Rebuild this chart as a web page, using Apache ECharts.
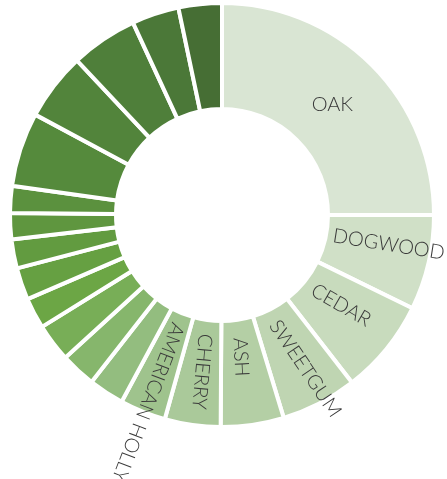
<!DOCTYPE html>
<html>
<head>
<meta charset="utf-8">
<script src="https://cdn.jsdelivr.net/npm/echarts@6/dist/echarts.min.js"></script>
<style>
  html, body { margin: 0; padding: 0; background: #fff; }
  #chart { width: 447px; height: 479px; }
</style>
</head>
<body>
<div id="chart"></div>
<script>
// tree species, share of the inventory (%)
var trees = ['OAK', 'DOGWOOD', 'CEDAR', 'SWEETGUM', 'ASH', 'CHERRY', 'AMERICAN HOLLY',
  'MAPLE', 'PINE', 'ELM', 'BIRCH', 'HICKORY', 'MAGNOLIA', 'REDBUD', 'BEECH',
  'WILLOW', 'POPLAR', 'SYCAMORE', 'WALNUT', 'SPRUCE'];
var shares = [25, 7.25, 7.25, 5.8, 4.8, 4.25, 3.5,
  2.7, 2.7, 2.9, 2.35, 2.45, 2.2, 2.0, 2.05,
  5.65, 5.15, 5.1, 3.6, 3.3];
// only these get a label in the original
var labelled = 7;

var greens = ['#d9e5d3', '#d0e0c7', '#c8dbbd', '#bfd5b2', '#b4cfa5', '#aac99a', '#9fc38d',
  '#93bd7f', '#86b66c', '#78ae57', '#6ca645', '#66a042', '#629b40', '#5f963f', '#5b913e',
  '#558a3c', '#52843b', '#4f7f3a', '#4b7838', '#466e34'];

// label placement for the labelled slices: tilt (deg, ccw +), start radius, angle nudge (deg)
var tilt = [0, -9, -30, -56, -87, -95, -111];
var inset = [156, 113, 117, 119, 124, 120, 117];
var nudge = [0, -2.5, 0, 1.5, 0, 0, 0];

var cx = 222, cy = 215;
var total = shares.reduce(function (a, b) { return a + b; }, 0);
var before = [];
shares.reduce(function (acc, v, i) { before[i] = acc; return acc + v; }, 0);

var chart = echarts.init(document.getElementById('chart'));
chart.setOption({
  animation: false,
  color: greens,
  series: [{
    type: 'pie',
    center: [cx, cy],
    radius: [106, 212],
    startAngle: 90,
    clockwise: true,
    avoidLabelOverlap: false,
    silent: true,
    itemStyle: { borderColor: '#fff', borderWidth: 4 },
    label: {
      show: true,
      position: 'inside',
      color: '#3a3a3a',
      fontFamily: 'Lato',
      fontWeight: 300,
      fontSize: 20
    },
    labelLine: { show: false },
    labelLayout: function (p) {
      var i = p.dataIndex;
      if (i >= labelled) return {};
      var mid = (before[i] + shares[i] / 2) / total * Math.PI * 2 + nudge[i] * Math.PI / 180;
      var r = inset[i];
      return {
        x: cx + r * Math.sin(mid),
        y: cy - r * Math.cos(mid),
        rotate: tilt[i],
        align: i === 0 ? 'center' : 'left',
        verticalAlign: 'middle'
      };
    },
    data: trees.map(function (name, i) {
      return { name: name, value: shares[i], label: { show: i < labelled } };
    })
  }]
});
</script>
</body>
</html>
